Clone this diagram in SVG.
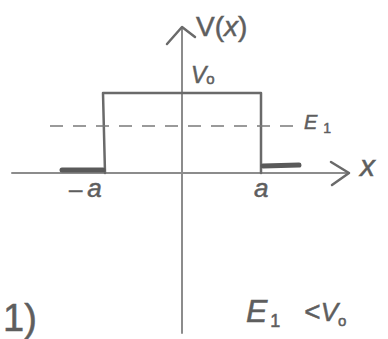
<svg xmlns="http://www.w3.org/2000/svg" width="388" height="339" viewBox="0 0 388 339">
<style>
.ax{stroke:#8c8c8c;stroke-width:2;fill:none;stroke-linecap:round;stroke-linejoin:round}
.ln{stroke:#6a6a6a;stroke-width:2.5;fill:none;stroke-linecap:round;stroke-linejoin:round}
.thick{stroke:#5a5a5a;stroke-width:5;fill:none;stroke-linecap:round}
.dash{stroke:#7a7a7a;stroke-width:1.6;fill:none;stroke-dasharray:13 10}
.t{font-family:"Liberation Sans","DejaVu Sans",sans-serif;fill:#5e5e5e;stroke:#5e5e5e;stroke-width:0.5}
</style>
<rect width="388" height="339" fill="#ffffff"/>
<g id="axes">
<path class="ax" d="M182 28 L182 333"/>
<path class="ln" d="M167 44 L182 27 L195 37"/>
<path class="ax" d="M12 173 L349 173"/>
<path class="ln" d="M331 162 L349 173 L332 185"/>
</g>
<g id="potential">
<path class="ln" d="M105 173 L103 93 L261 93 L261 173"/>
<path class="thick" d="M62 170 L103 170"/>
<path class="thick" d="M263 166 L299 165"/>
<path class="dash" d="M50 126 L295 126"/>
</g>
<g id="labels">
<text class="t" x="196" y="36" font-size="28">V(<tspan font-style="italic">x</tspan>)</text>
<text class="t" x="191" y="83" font-size="23" font-style="italic">V<tspan font-size="15" font-style="normal" dy="1">o</tspan></text>
<text class="t" x="304" y="129" font-size="20" font-style="italic">E<tspan font-size="14" font-style="normal" dx="6" dy="4">1</tspan></text>
<text class="t" x="360" y="176" font-size="30" font-style="italic">x</text>
<text class="t" x="69" y="197" font-size="24">–<tspan font-style="italic" font-size="26" dx="5">a</tspan></text>
<text class="t" x="254" y="197" font-size="26" font-style="italic">a</text>
<text class="t" x="3" y="331" font-size="38">1)</text>
<text class="t" x="246" y="322" font-size="32" font-style="italic">E<tspan font-size="18" font-style="normal" dx="3" dy="5">1</tspan><tspan font-style="normal" font-size="28" dx="24" dy="-6">&lt;</tspan><tspan font-size="26">V</tspan><tspan font-size="15" font-style="normal" dy="5">o</tspan></text>
</g>
</svg>
